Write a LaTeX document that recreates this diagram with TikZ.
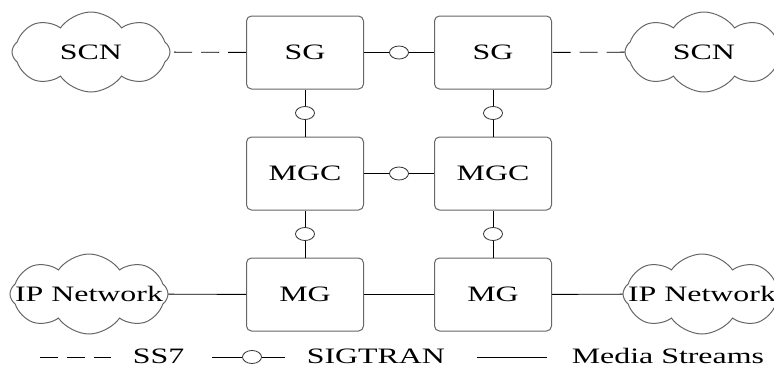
\documentclass[tikz,border=0pt]{standalone}
\usepackage{fontspec}
\setmainfont{Liberation Serif}[FakeStretch=1.45]
\usetikzlibrary{shapes.geometric,shapes.symbols}

\tikzset{
  gw/.style={draw=black!60, line width=1pt, rounded corners=5pt,
    minimum width=117pt, minimum height=73pt, inner sep=0pt},
  net/.style={cloud, cloud puffs=8, cloud puff arc=110, aspect=2, draw=black!60, line width=1pt,
    minimum width=158pt, minimum height=80pt, inner sep=0pt},
  sig/.style={ellipse, draw=black!80, fill=white, line width=0.8pt,
    minimum width=19pt, minimum height=13pt, inner sep=0pt},
  ss7/.style={dash pattern=on 18pt off 9pt},
}

\begin{document}
\begin{tikzpicture}[x=1pt, y=-1pt, font=\fontsize{22}{26}\selectfont, line width=0.9pt]
          \useasboundingbox (0,0) rectangle (774,367);

          % networks
          \node[net, label=center:SCN]        (scn1) at ( 91,  52) {};
          \node[net, label=center:SCN]        (scn2) at (704,  52) {};
          \node[net, label=center:IP Network] (ip1)  at ( 89, 294) {};
          \node[net, label=center:IP Network] (ip2)  at (702, 294) {};

          % gateways and controllers
          \node[gw] (sg1)  at (305,  52.5) {SG};
          \node[gw] (sg2)  at (493,  52.5) {SG};
          \node[gw] (mgc1) at (305, 173.5) {MGC};
          \node[gw] (mgc2) at (493, 173.5) {MGC};
          \node[gw] (mg1)  at (305, 294.5) {MG};
          \node[gw] (mg2)  at (493, 294.5) {MG};

          % sigtran links
          \node[sig] (s1) at (399,  52.5) {};
          \node[sig] (s2) at (399, 173.5) {};
          \node[sig] (s3) at (305, 113) {};
          \node[sig] (s4) at (493, 113) {};
          \node[sig] (s5) at (305, 234) {};
          \node[sig] (s6) at (493, 234) {};

          \draw (sg1) -- (s1) -- (sg2);
          \draw (mgc1) -- (s2) -- (mgc2);
          \draw (sg1) -- (s3) -- (mgc1);
          \draw (sg2) -- (s4) -- (mgc2);
          \draw (mgc1) -- (s5) -- (mg1);
          \draw (mgc2) -- (s6) -- (mg2);

          % ss7 links
          \draw[ss7] (sg1) -- (scn1);
          \draw[ss7] (scn2) -- (sg2);

          % media streams
          \draw (ip1) -- (mg1) -- (mg2) -- (ip2);

          % key
          \coordinate (k1a) at ( 40, 357);
          \coordinate (k1b) at (111, 357);
          \coordinate (k2a) at (212, 357);
          \coordinate (k2b) at (285, 357);
          \coordinate (k3a) at (477, 357);
          \coordinate (k3b) at (547, 357);
          \node[sig] (k2) at (252, 357) {};

          \draw[ss7] (k1a) -- (k1b);
          \draw (k2a) -- (k2) -- (k2b);
          \draw (k3a) -- (k3b);

          \node[anchor=base west] (t1) at (129, 363) {SS7};
          \node[anchor=base west] (t2) at (303, 363) {SIGTRAN};
          \node[anchor=base west] (t3) at (568, 363) {Media Streams};
        \end{tikzpicture}
\end{document}
